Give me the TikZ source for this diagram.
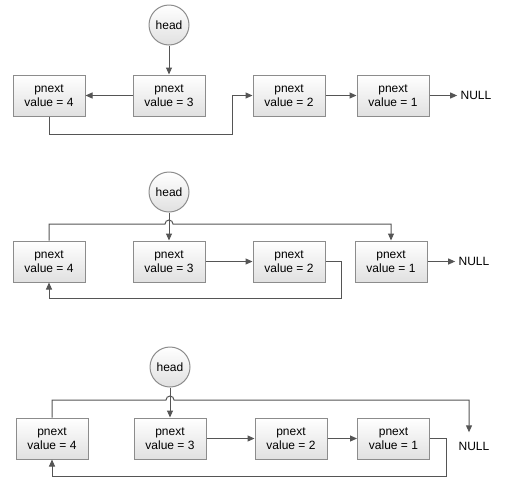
\documentclass[tikz,border=0pt]{standalone}
\usepackage{fontspec}
\setmainfont{Liberation Sans}
\usetikzlibrary{arrows.meta}
\definecolor{linegray}{HTML}{555555}
\definecolor{boxgray}{HTML}{8C8C8C}
\tikzstyle{cell}=[rectangle, draw=boxgray, top color=white, bottom color=black!12, minimum width=72pt, minimum height=41pt, align=center, font=\fontsize{12}{14.5}\selectfont]
\tikzstyle{headnode}=[circle, draw=boxgray, top color=white, bottom color=black!12, minimum size=40pt, inner sep=0pt, font=\fontsize{12}{14.5}\selectfont]
\tikzstyle{nil}=[inner sep=3pt, font=\fontsize{12}{14.5}\selectfont]
\tikzstyle{link}=[draw=linegray, -{Triangle[length=7pt,width=6pt]}]

\begin{document}
\begin{tikzpicture}[x=1pt, y=-1pt, line width=1pt]
  \useasboundingbox (0,0) rectangle (510,496);
  % first list
  \node[headnode] (h1) at (169, 25) {head};
  \node[cell] (a4) at (49, 95.5) {pnext\\value = 4};
  \node[cell] (a3) at (169, 95.5) {pnext\\value = 3};
  \node[cell] (a2) at (289, 95.5) {pnext\\value = 2};
  \node[cell] (a1) at (393, 95.5) {pnext\\value = 1};
  \node[nil] (n1) at (476, 95.5) {NULL};
  \draw[link] (h1) -- (a3);
  \draw[link] (a3) -- (a4);
  \draw[link] (a4.south) -- ++(0,18) -| ([xshift=-20pt]a2.west) -- (a2.west);
  \draw[link] (a2) -- (a1);
  \draw[link] (a1) -- (n1);
  % second list
  \node[headnode] (h2) at (169, 192) {head};
  \node[cell] (b4) at (49, 261.5) {pnext\\value = 4};
  \node[cell] (b3) at (169, 261.5) {pnext\\value = 3};
  \node[cell] (b2) at (289, 261.5) {pnext\\value = 2};
  \node[cell] (b1) at (391, 261.5) {pnext\\value = 1};
  \node[nil] (n2) at (474, 261.5) {NULL};
  \coordinate (j2) at (169, 224);
  \draw[link] (h2) -- (b3);
  \draw[link] (b4.north) |- ([xshift=-4pt]j2) arc[start angle=180, end angle=0, radius=4pt] -| (b1.north);
  \draw[link] (b3) -- (b2);
  \draw[link] (b2.east) -- ++(16,0) -- ++(0,37) -| (b4.south);
  \draw[link] (b1) -- (n2);
  % third list
  \node[headnode] (h3) at (170, 367) {head};
  \node[cell] (c4) at (52, 438.5) {pnext\\value = 4};
  \node[cell] (c3) at (170, 438.5) {pnext\\value = 3};
  \node[cell] (c2) at (291, 438.5) {pnext\\value = 2};
  \node[cell] (c1) at (393.5, 438.5) {pnext\\value = 1};
  \node[nil] (n3) at (474, 446) {NULL};
  \coordinate (j3) at (170, 400);
  \draw[link] (h3) -- (c3);
  \draw[link] (c4.north) |- ([xshift=-4pt]j3) arc[start angle=180, end angle=0, radius=4pt] -| ([shift={(-5pt,6pt)}]n3.north);
  \draw[link] (c3) -- (c2);
  \draw[link] (c2) -- (c1);
  \draw[link] (c1.east) -- ++(16,0) -- ++(0,37.5) -| (c4.south);
\end{tikzpicture}
\end{document}
